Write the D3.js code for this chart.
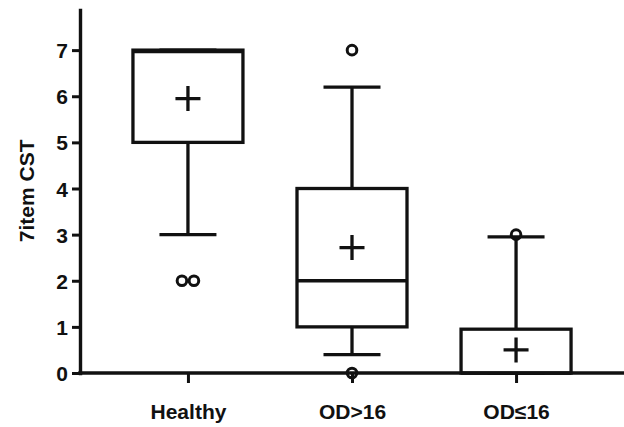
<!DOCTYPE html>
<html>
<head>
<meta charset="utf-8">
<script src="https://cdn.jsdelivr.net/npm/d3@7"></script>
<style>
  body { margin: 0; background: #fff; }
  #svg-container { width: 624px; height: 427px; }
  text { font-family: "Liberation Sans", Arial, sans-serif; font-weight: bold; fill: #111; }
</style>
</head>
<body>
<div id="svg-container"></div>
<script>
// data
const categories = ["Healthy", "OD>16", "OD≤16"];
const q1 = [5, 1, 0];
const median = [7, 2, 0];
const q3 = [7, 4, 0.95];
const whiskerLow = [3, 0.4, 0];
const whiskerHigh = [7, 6.2, 2.95];
const means = [5.95, 2.72, 0.5];
const outlierCat = ["Healthy", "Healthy", "OD>16", "OD>16", "OD≤16"];
const outlierVal = [2, 2, 7, 0, 3];
const yTicks = [0, 1, 2, 3, 4, 5, 6, 7];

// svg
const width = 624;
const height = 427;
const margin = { top: 10, right: 0, bottom: 54, left: 80 };
const ink = "#111";

const svg = d3.select("#svg-container").append("svg")
  .attr("width", width).attr("height", height);

// scale
const xScale = d3.scalePoint()
  .domain(categories)
  .range([margin.left, width - margin.right])
  .padding(0.658);
const yScale = d3.scaleLinear()
  .domain([0, 7.87])
  .range([height - margin.bottom, margin.top]);

const boxW = 110;
const capW = 57;
const crossW = 25;

// axis
const yAxis = d3.axisLeft(yScale).tickValues(yTicks).tickSize(8).tickPadding(4).tickSizeOuter(0);
const xAxis = d3.axisBottom(xScale).tickSize(10).tickPadding(21).tickSizeOuter(0);

const gx = svg.append("g")
  .attr("class", "x-axis")
  .attr("transform", `translate(0, ${yScale(0)})`)
  .call(xAxis);
gx.select(".domain").attr("d", `M${margin.left},0H${width}`);

const gy = svg.append("g")
  .attr("class", "y-axis")
  .attr("transform", `translate(${margin.left},0)`)
  .call(yAxis);

[gx, gy].forEach((g) => {
  g.select(".domain").attr("stroke", ink).attr("stroke-width", 3.4).attr("stroke-linecap", "square");
  g.selectAll(".tick line").attr("stroke", ink).attr("stroke-width", 3);
  g.selectAll(".tick text").style("font-size", "21px").attr("fill", ink);
});
gy.selectAll(".tick text").attr("dy", "0.36em");

svg.append("text")
  .attr("transform", `translate(34, ${yScale(3.95)}) rotate(-90)`)
  .attr("text-anchor", "middle")
  .style("font-size", "21px")
  .text("7item CST");

// boxes
const g = svg.append("g").attr("fill", "none").attr("stroke", ink).attr("stroke-width", 3.3);

categories.forEach((c, i) => {
  const cx = xScale(c);
  // whiskers
  g.append("line").attr("x1", cx).attr("x2", cx)
    .attr("y1", yScale(q3[i])).attr("y2", yScale(whiskerHigh[i]));
  g.append("line").attr("x1", cx).attr("x2", cx)
    .attr("y1", yScale(q1[i])).attr("y2", yScale(whiskerLow[i]));
  [whiskerLow[i], whiskerHigh[i]].forEach((w) => {
    g.append("line").attr("x1", cx - capW / 2).attr("x2", cx + capW / 2)
      .attr("y1", yScale(w)).attr("y2", yScale(w));
  });
  // box
  g.append("rect")
    .attr("x", cx - boxW / 2).attr("width", boxW)
    .attr("y", yScale(q3[i])).attr("height", yScale(q1[i]) - yScale(q3[i]))
    .attr("fill", "#fff");
  g.append("line").attr("x1", cx - boxW / 2).attr("x2", cx + boxW / 2)
    .attr("y1", yScale(median[i]) + (median[i] === q3[i] ? 1.5 : 0))
    .attr("y2", yScale(median[i]) + (median[i] === q3[i] ? 1.5 : 0));
  // mean
  const my = yScale(means[i]);
  g.append("path")
    .attr("d", `M${cx - crossW / 2},${my}H${cx + crossW / 2}M${cx},${my - crossW / 2}V${my + crossW / 2}`);
});

// outliers (duplicates dodged sideways)
const seen = {};
const outliers = outlierCat.map((c, i) => {
  const key = c + "_" + outlierVal[i];
  seen[key] = (seen[key] || 0) + 1;
  return { c, v: outlierVal[i], n: seen[key], key };
});
outliers.forEach((d) => {
  const total = seen[d.key];
  const dx = total > 1 ? (d.n - (total + 1) / 2) * 12 : 0;
  g.append("circle")
    .attr("cx", xScale(d.c) + dx)
    .attr("cy", yScale(d.v))
    .attr("r", 4.8)
    .attr("stroke-width", 3);
});
</script>
</body>
</html>
